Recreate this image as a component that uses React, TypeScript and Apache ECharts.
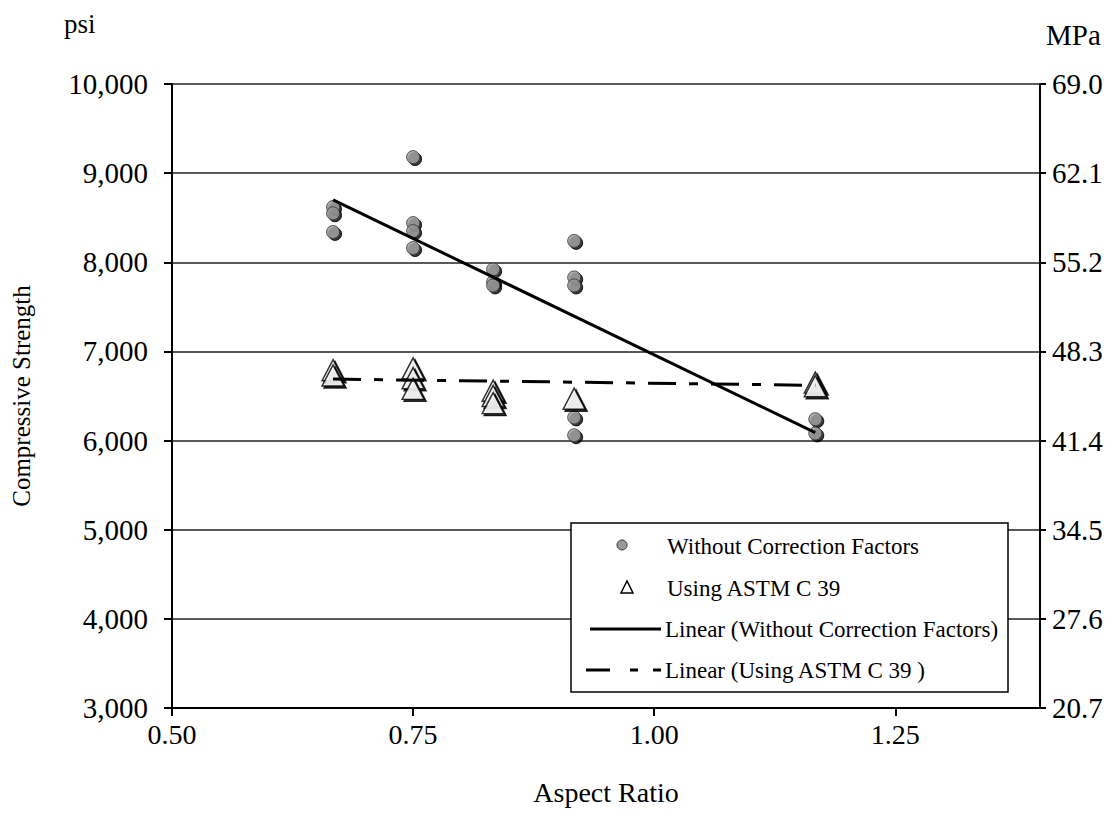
import React, { useEffect, useRef } from "react";
import * as echarts from "echarts";

// ---- data ----
const circleRatio = [0.667, 0.667, 0.667, 0.75, 0.75, 0.75, 0.75, 0.833, 0.833, 0.833, 0.917, 0.917, 0.917, 0.917, 0.917, 1.167, 1.167];
const circlePsi = [8620, 8550, 8340, 9180, 8440, 8350, 8160, 7920, 7780, 7740, 8240, 7830, 7740, 6260, 6060, 6240, 6080];

const triangleRatio = [0.667, 0.667, 0.75, 0.75, 0.75, 0.833, 0.833, 0.833, 0.917, 1.167, 1.167];
const trianglePsi = [6790, 6730, 6810, 6700, 6580, 6560, 6500, 6420, 6470, 6650, 6610];

const trendRatio = [0.667, 1.167];
const trendWithoutPsi = [8700, 6090];
const trendAstmPsi = [6690, 6620];

const xTicks = [0.5, 0.75, 1.0, 1.25];
const xTickLabels = ["0.50", "0.75", "1.00", "1.25"];
const psiTickLabels = ["3,000", "4,000", "5,000", "6,000", "7,000", "8,000", "9,000", "10,000"];
const mpaTickLabels = ["20.7", "27.6", "34.5", "41.4", "48.3", "55.2", "62.1", "69.0"];

const seriesNames = [
  "Without Correction Factors",
  "Using ASTM C 39",
  "Linear (Without Correction Factors)",
  "Linear (Using ASTM C 39 )",
];

const FONT = "'Liberation Serif', 'Times New Roman', serif";

export default function App() {
  const ref = useRef<HTMLDivElement>(null);

  useEffect(() => {
    if (!ref.current) return;
    const chart = echarts.init(ref.current, null, { renderer: "svg" });
    const zip = (xs: number[], ys: number[]) => xs.map((x, i) => [x, ys[i]]);

    const legendFont = `23px ${FONT}`;
    const legendText = (text: string, y: number, x: number) => ({
      type: "text",
      x,
      y,
      z: 101,
      style: { text, font: legendFont, fill: "#000", textVerticalAlign: "middle", textAlign: "left" },
    });

    chart.setOption({
      animation: false,
      backgroundColor: "#fff",
      textStyle: { fontFamily: FONT, color: "#000" },
      grid: { left: 172, right: 72, top: 84, bottom: 118, containLabel: false },
      xAxis: {
        type: "value",
        min: 0.5,
        max: 1.4,
        interval: 0.25,
        name: "Aspect Ratio",
        nameLocation: "middle",
        nameGap: 70,
        nameTextStyle: { fontFamily: FONT, fontSize: 28, color: "#000" },
        axisLine: { show: true, lineStyle: { color: "#000", width: 2 } },
        axisTick: { show: true, inside: false, length: 8, lineStyle: { color: "#000", width: 2 } },
        axisLabel: {
          showMaxLabel: false,
          margin: 12,
          fontFamily: FONT,
          fontSize: 28,
          color: "#000",
          formatter: (v: number) => {
            const i = xTicks.indexOf(v);
            return i >= 0 ? xTickLabels[i] : "";
          },
        },
        splitLine: { show: false },
      },
      yAxis: [
        {
          type: "value",
          min: 3000,
          max: 10000,
          interval: 1000,
          position: "left",
          name: "Compressive Strength",
          nameLocation: "middle",
          nameGap: 138,
          nameRotate: 90,
          nameTextStyle: { fontFamily: FONT, fontSize: 25, color: "#000" },
          axisLine: { show: true, lineStyle: { color: "#000", width: 2 } },
          axisTick: { show: true, length: 8, lineStyle: { color: "#000", width: 2 } },
          axisLabel: {
            margin: 24,
            fontFamily: FONT,
            fontSize: 29,
            color: "#000",
            formatter: (_v: number, i: number) => psiTickLabels[i] ?? "",
          },
          splitLine: { show: true, lineStyle: { color: "#222", width: 1.6 } },
        },
        {
          type: "value",
          min: 3000,
          max: 10000,
          interval: 1000,
          position: "right",
          axisLine: { show: true, lineStyle: { color: "#000", width: 2 } },
          axisTick: { show: true, length: 6, lineStyle: { color: "#000", width: 2 } },
          axisLabel: {
            margin: 12,
            fontFamily: FONT,
            fontSize: 29,
            color: "#000",
            formatter: (_v: number, i: number) => mpaTickLabels[i] ?? "",
          },
          splitLine: { show: false },
        },
      ],
      graphic: [
        { type: "text", x: 64, y: 10, style: { text: "psi", font: `27px ${FONT}`, fill: "#000" } },
        { type: "text", x: 1046, y: 20, style: { text: "MPa", font: `29px ${FONT}`, fill: "#000" } },
        {
          type: "rect",
          z: 100,
          shape: { x: 571, y: 523, width: 437, height: 169 },
          style: { fill: "#fff", stroke: "#000", lineWidth: 1.5 },
        },
        {
          type: "circle",
          z: 101,
          shape: { cx: 622, cy: 545, r: 5 },
          style: { fill: "#999", stroke: "#333", lineWidth: 1 },
        },
        legendText(seriesNames[0], 546, 667),
        {
          type: "polygon",
          z: 101,
          shape: { points: [[627, 581], [621, 593], [633, 593]] },
          style: { fill: "#fff", stroke: "#000", lineWidth: 1.5 },
        },
        legendText(seriesNames[1], 588, 667),
        {
          type: "line",
          z: 101,
          shape: { x1: 590, y1: 629, x2: 661, y2: 629 },
          style: { stroke: "#000", lineWidth: 3 },
        },
        legendText(seriesNames[2], 629, 665),
        {
          type: "line",
          z: 101,
          shape: { x1: 586, y1: 670, x2: 610, y2: 670 },
          style: { stroke: "#000", lineWidth: 3 },
        },
        {
          type: "line",
          z: 101,
          shape: { x1: 630, y1: 670, x2: 638, y2: 670 },
          style: { stroke: "#000", lineWidth: 3 },
        },
        {
          type: "line",
          z: 101,
          shape: { x1: 653, y1: 670, x2: 661, y2: 670 },
          style: { stroke: "#000", lineWidth: 3 },
        },
        legendText(seriesNames[3], 670, 665),
      ],
      series: [
        {
          name: seriesNames[0],
          type: "scatter",
          symbol: "circle",
          symbolSize: 13,
          z: 2,
          itemStyle: {
            color: "#999999",
            borderColor: "#333",
            borderWidth: 1,
            shadowColor: "#000",
            shadowBlur: 0,
            shadowOffsetX: 2,
            shadowOffsetY: 2,
          },
          data: zip(circleRatio, circlePsi),
        },
        {
          name: seriesNames[1],
          type: "scatter",
          symbol: "triangle",
          symbolSize: [22, 21],
          z: 2,
          itemStyle: {
            color: "#fff",
            borderColor: "#000",
            borderWidth: 1.5,
            shadowColor: "#000",
            shadowBlur: 0,
            shadowOffsetX: 2,
            shadowOffsetY: 2,
          },
          data: zip(triangleRatio, trianglePsi),
        },
        {
          name: seriesNames[2],
          type: "line",
          showSymbol: false,
          symbol: "none",
          z: 3,
          lineStyle: { color: "#000", width: 3, type: "solid" },
          data: zip(trendRatio, trendWithoutPsi),
        },
        {
          name: seriesNames[3],
          type: "line",
          showSymbol: false,
          symbol: "none",
          z: 3,
          lineStyle: { color: "#000", width: 3, type: [28, 13, 9, 13] },
          data: zip(trendRatio, trendAstmPsi),
        },
      ],
    });

    return () => chart.dispose();
  }, []);

  return (
    <div
      ref={ref}
      style={{ position: "fixed", left: 0, top: 0, width: 1112, height: 826, background: "#fff" }}
    />
  );
}
